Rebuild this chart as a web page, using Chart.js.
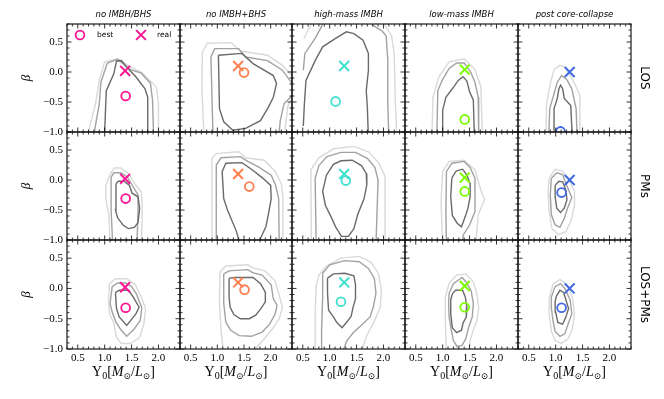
<!DOCTYPE html>
<html>
<head>
<meta charset="utf-8">
<script src="https://cdn.jsdelivr.net/npm/chart.js@4.4.1/dist/chart.umd.min.js"></script>
<style>
  html, body { margin: 0; padding: 0; background: #fff; }
  #wrap { position: relative; width: 664px; height: 399px; overflow: hidden; }
  #wrap canvas { position: absolute; left: 0; top: 0; }
</style>
</head>
<body>
<div id="wrap"></div>
<script>
// ---- data ----
const colTitles = ["no IMBH/BHS", "no IMBH+BHS", "high-mass IMBH", "low-mass IMBH", "post core-collapse"];
const rowLabels = ["LOS", "PMs", "LOS+PMs"];
const modelColors = ["#ff1493", "#ff7f50", "#40e0d0", "#7cfc00", "#4169e1"];

const xTicks = [0.5, 1.0, 1.5, 2.0];
const yTicks = [-1.0, -0.5, 0.0, 0.5];

// "real" values (same in every row)
const realUps = [1.38, 1.39, 1.27, 1.41, 1.26];
const realBeta = [0.02, 0.10, 0.10, 0.04, 0.00];

// "best" fits, one list per row
const bestUps = [
  [1.39, 1.50, 1.11, 1.41, 1.09],
  [1.39, 1.60, 1.30, 1.41, 1.11],
  [1.39, 1.51, 1.21, 1.41, 1.11]
];
const bestBeta = [
  [-0.40, -0.01, -0.49, -0.79, -0.99],
  [-0.31, -0.11, -0.01, -0.19, -0.21],
  [-0.32, -0.02, -0.22, -0.31, -0.32]
];

// contour lines, flat lists of (Upsilon, beta) pairs
const losContours = [
  { dark: [[1.0,-1.1, 1.0,-0.99, 1.03,-0.31, 1.17,-0.03, 1.22,0.18, 1.31,0.19, 1.41,0.08, 1.58,-0.08, 1.75,-0.28, 1.80,-0.42, 1.80,-1.1]],
    mid: [[0.81,-1.1, 0.81,-0.99, 0.90,-0.53, 0.93,-0.17, 1.05,0.15, 1.24,0.21, 1.48,0.04, 1.68,-0.02, 1.85,-0.19, 1.89,-0.47, 1.91,-1.1]],
    light: [[0.70,-1.1, 0.70,-0.99, 0.83,-0.53, 0.90,-0.14, 1.0,0.17, 1.24,0.22, 1.51,0.07, 1.68,0.0, 1.96,-0.25, 2.0,-0.53, 2.0,-1.1]] },
  { dark: [[1.02,0.28, 1.46,0.31, 1.67,0.14, 2.05,-0.06, 2.11,-0.19, 2.05,-0.42, 1.96,-0.58, 1.81,-0.81, 1.53,-0.94, 1.29,-0.97, 1.12,-0.83, 1.04,-0.61, 1.02,0.28]],
    mid: [[0.92,-1.1, 0.88,0.25, 0.95,0.39, 1.40,0.39, 1.53,0.25, 1.94,0.19, 2.22,0.03, 2.40,-0.19, 2.5,-0.3, 2.25,-0.53, 2.18,-0.81, 2.15,-1.1]],
    light: [[0.75,-1.1, 0.71,-0.25, 0.72,0.33, 0.81,0.48, 1.26,0.49, 1.43,0.35, 1.94,0.28, 2.22,0.11, 2.40,-0.06, 2.5,-0.2, 2.32,-0.58, 2.25,-1.1]] },
  { dark: [[0.51,-0.9, 0.53,-0.53, 0.56,-0.14, 0.73,0.19, 0.87,0.42, 1.11,0.56, 1.31,0.67, 1.45,0.64, 1.62,0.53, 1.72,0.31, 1.72,0.03, 1.68,-0.31, 1.70,-0.58, 1.72,-1.1]],
    mid: [[0.51,0.03, 0.54,0.31, 0.73,0.56, 0.85,0.76, 0.88,0.9],
          [1.75,0.9, 1.8,0.78, 1.98,0.68, 2.05,0.6, 2.08,0.2, 2.08,-0.53, 2.10,-1.1]],
    light: [[0.52,0.55, 0.6,0.7, 0.72,0.9],
            [1.95,0.9, 2.05,0.75, 2.15,0.6, 2.2,0.3, 2.22,-0.5, 2.25,-1.1]] },
  { dark: [[0.99,-1.1, 1.0,-0.64, 1.06,-0.42, 1.18,-0.28, 1.29,-0.14, 1.38,-0.08, 1.45,-0.15, 1.50,-0.33, 1.57,-0.47, 1.59,-1.1]],
    mid: [[0.89,-1.1, 0.91,-0.31, 0.99,-0.14, 1.12,0.06, 1.26,0.15, 1.40,0.15, 1.52,0.0, 1.60,-0.17, 1.66,-0.42, 1.67,-1.1]],
    light: [[0.80,-1.1, 0.82,-0.42, 0.93,-0.08, 1.12,0.17, 1.40,0.22, 1.60,0.04, 1.71,-0.25, 1.74,-1.1]] },
  { dark: [[0.97,-1.1, 0.97,-0.61, 1.03,-0.44, 1.06,-0.28, 1.09,-0.22, 1.13,-0.28, 1.16,-0.44, 1.28,-0.56, 1.31,-1.1]],
    mid: [[0.87,-1.1, 0.89,-0.61, 0.97,-0.36, 1.03,-0.17, 1.11,-0.06, 1.21,-0.13, 1.30,-0.28, 1.38,-0.61, 1.40,-1.1]],
    light: [[0.82,-1.1, 0.83,-0.53, 0.90,-0.19, 0.97,0.04, 1.07,0.11, 1.18,0.08, 1.35,-0.19, 1.45,-0.39, 1.45,-1.1]] }
];

const pmsContours = [
  { dark: [[1.21,-0.07, 1.25,-0.02, 1.36,-0.02, 1.46,-0.09, 1.51,-0.22, 1.62,-0.28, 1.65,-0.47, 1.62,-0.71, 1.55,-0.79, 1.44,-0.81, 1.34,-0.75, 1.24,-0.63, 1.20,-0.5, 1.21,-0.07]],
    mid: [[1.15,-1.1, 1.12,-0.5, 1.12,0.05, 1.17,0.12, 1.30,0.12, 1.42,0.05, 1.52,-0.1, 1.62,-0.25, 1.62,-0.5, 1.60,-1.1]],
    light: [[1.1,-1.1, 1.08,-0.6, 1.02,-0.3, 1.02,-0.1, 1.1,0.1, 1.18,0.2, 1.3,0.2, 1.45,0.1, 1.55,-0.05, 1.68,-0.2, 1.7,-0.5, 1.68,-1.1]] },
  { dark: [[1.43,-1.1, 1.36,-0.86, 1.27,-0.67, 1.19,-0.5, 1.12,-0.31, 1.09,0.14, 1.16,0.28, 1.46,0.29, 1.64,0.18, 1.84,0.04, 2.0,-0.09, 2.01,-0.31, 1.96,-0.56, 1.91,-0.78, 1.81,-0.97, 1.77,-1.1]],
    mid: [[0.98,-1.1, 0.98,0.25, 1.07,0.37, 1.43,0.39, 1.57,0.31, 1.77,0.22, 2.01,0.08, 2.09,-0.08, 2.15,-0.31, 2.16,-1.1]],
    light: [[0.90,-1.1, 0.90,0.36, 0.98,0.44, 1.40,0.47, 1.53,0.37, 1.88,0.33, 2.08,0.15, 2.20,-0.06, 2.23,-0.31, 2.23,-1.1]] },
  { dark: [[0.94,0.08, 1.07,0.26, 1.21,0.32, 1.42,0.33, 1.59,0.24, 1.68,0.11, 1.69,-0.08, 1.64,-0.31, 1.52,-0.58, 1.45,-0.81, 1.35,-0.94, 1.22,-0.94, 1.11,-0.78, 1.04,-0.64, 0.92,-0.42, 0.87,-0.19, 0.94,0.08]],
    mid: [[0.75,-1.1, 0.73,0.03, 0.80,0.24, 0.95,0.39, 1.21,0.46, 1.48,0.46, 1.70,0.36, 1.84,0.21, 1.90,0.0, 1.88,-0.53, 1.86,-1.1]],
    light: [[0.66,-1.1, 0.65,0.17, 0.80,0.37, 1.07,0.52, 1.45,0.56, 1.72,0.47, 1.91,0.29, 2.03,0.06, 2.03,-1.1]] },
  { dark: [[1.17,0.03, 1.25,0.15, 1.37,0.18, 1.45,0.08, 1.51,-0.06, 1.51,-0.28, 1.47,-0.47, 1.42,-0.61, 1.35,-0.78, 1.27,-0.72, 1.18,-0.59, 1.15,-0.28, 1.17,0.03]],
    mid: [[1.07,-1.1, 1.06,-0.53, 1.07,0.14, 1.17,0.28, 1.40,0.31, 1.51,0.21, 1.60,0.03, 1.60,-0.53, 1.50,-0.75, 1.38,-0.92, 1.37,-1.1]],
    light: [[1.0,-1.1, 0.97,-0.36, 1.0,0.14, 1.12,0.31, 1.40,0.33, 1.60,0.17, 1.68,-0.08, 1.73,-0.22, 1.78,-0.32, 1.73,-0.43, 1.66,-0.58, 1.61,-1.1]] },
  { dark: [[0.99,-0.09, 1.06,-0.02, 1.13,-0.03, 1.19,-0.17, 1.21,-0.33, 1.16,-0.47, 1.09,-0.54, 1.02,-0.47, 0.99,-0.28, 0.99,-0.09]],
    mid: [[0.92,0.03, 1.02,0.12, 1.13,0.09, 1.19,-0.06, 1.30,-0.29, 1.22,-0.47, 1.16,-0.64, 1.08,-0.79, 0.99,-0.75, 0.92,-0.58, 0.90,-0.25, 0.92,0.03]],
    light: [[0.88,0.03, 0.99,0.18, 1.13,0.15, 1.25,0.0, 1.35,-0.19, 1.35,-0.44, 1.28,-0.69, 1.19,-0.86, 1.05,-0.91, 0.93,-0.81, 0.88,-0.53, 0.86,-0.19, 0.88,0.03]] }
];

const bothContours = [
  { dark: [[1.20,-0.07, 1.27,-0.03, 1.44,-0.03, 1.53,-0.14, 1.64,-0.31, 1.58,-0.42, 1.41,-0.61, 1.27,-0.47, 1.22,-0.33, 1.20,-0.07]],
    mid: [[1.10,-0.25, 1.14,0.03, 1.24,0.09, 1.39,0.09, 1.50,0.03, 1.59,-0.09, 1.69,-0.32, 1.66,-0.53, 1.55,-0.67, 1.41,-0.79, 1.31,-0.69, 1.21,-0.56, 1.14,-0.39, 1.10,-0.25]],
    light: [[1.07,-0.19, 1.09,0.08, 1.20,0.16, 1.41,0.16, 1.57,0.06, 1.68,-0.14, 1.76,-0.33, 1.73,-0.58, 1.65,-0.81, 1.48,-0.91, 1.31,-0.91, 1.22,-0.81, 1.17,-0.58, 1.09,-0.41, 1.07,-0.19]] },
  { dark: [[1.22,0.17, 1.33,0.18, 1.67,0.18, 1.81,0.08, 1.90,-0.06, 1.90,-0.22, 1.82,-0.33, 1.72,-0.44, 1.60,-0.5, 1.43,-0.5, 1.31,-0.43, 1.24,-0.31, 1.22,-0.14, 1.22,0.17]],
    mid: [[1.12,0.24, 1.22,0.29, 1.57,0.31, 1.66,0.26, 1.84,0.22, 2.01,0.06, 2.05,-0.17, 2.12,-0.28, 2.08,-0.43, 1.98,-0.59, 1.84,-0.72, 1.64,-0.79, 1.41,-0.78, 1.25,-0.69, 1.16,-0.56, 1.12,-0.25, 1.12,0.24]],
    light: [[1.12,-1.1, 1.07,-0.69, 1.04,-0.25, 1.05,0.28, 1.16,0.37, 1.57,0.39, 1.67,0.34, 1.89,0.29, 2.08,0.13, 2.16,-0.11, 2.22,-0.31, 2.16,-0.5, 2.03,-0.67, 1.88,-0.83, 1.71,-1.0, 1.64,-1.1]] },
  { dark: [[0.96,0.17, 1.07,0.24, 1.28,0.25, 1.45,0.21, 1.48,0.06, 1.48,-0.17, 1.43,-0.33, 1.40,-0.46, 1.34,-0.53, 1.23,-0.65, 1.13,-0.56, 1.07,-0.47, 0.98,-0.36, 0.96,-0.08, 0.96,0.17]],
    mid: [[0.85,-1.1, 0.85,-0.69, 0.87,-0.14, 0.87,0.25, 1.0,0.39, 1.28,0.46, 1.55,0.44, 1.72,0.33, 1.83,0.17, 1.86,-0.08, 1.81,-0.31, 1.75,-0.47, 1.61,-0.59, 1.45,-0.72, 1.32,-0.86, 1.22,-1.1]],
    light: [[0.74,-1.1, 0.73,-0.42, 0.75,0.03, 0.80,0.22, 0.94,0.37, 1.21,0.5, 1.55,0.53, 1.77,0.43, 1.91,0.24, 1.96,-0.03, 1.94,-0.31, 1.83,-0.54, 1.70,-0.76, 1.56,-1.1]] },
  { dark: [[1.18,-0.09, 1.24,-0.03, 1.37,-0.03, 1.42,-0.14, 1.45,-0.31, 1.44,-0.47, 1.38,-0.57, 1.35,-0.69, 1.26,-0.73, 1.18,-0.65, 1.15,-0.42, 1.15,-0.19, 1.18,-0.09]],
    mid: [[1.12,-0.08, 1.20,0.08, 1.36,0.18, 1.45,0.09, 1.53,-0.04, 1.57,-0.25, 1.55,-0.47, 1.48,-0.65, 1.43,-0.83, 1.36,-0.94, 1.27,-0.96, 1.20,-0.86, 1.16,-0.69, 1.12,-0.47, 1.11,-0.25, 1.12,-0.08]],
    light: [[1.07,-1.1, 1.05,-0.53, 1.05,-0.14, 1.12,0.09, 1.26,0.22, 1.43,0.24, 1.57,0.11, 1.64,-0.11, 1.67,-0.32, 1.64,-0.52, 1.57,-0.68, 1.51,-0.86, 1.48,-1.1]] },
  { dark: [[1.01,-0.13, 1.08,-0.03, 1.15,-0.07, 1.19,-0.19, 1.24,-0.33, 1.19,-0.47, 1.13,-0.59, 1.04,-0.56, 1.0,-0.39, 0.99,-0.22, 1.01,-0.13]],
    mid: [[0.92,-0.14, 0.99,0.03, 1.09,0.08, 1.17,0.0, 1.27,-0.19, 1.30,-0.42, 1.23,-0.59, 1.17,-0.75, 1.08,-0.79, 0.99,-0.71, 0.95,-0.53, 0.92,-0.32, 0.92,-0.14]],
    light: [[0.88,-0.17, 0.95,0.07, 1.08,0.15, 1.20,0.07, 1.31,-0.14, 1.35,-0.42, 1.31,-0.67, 1.23,-0.83, 1.10,-0.91, 0.99,-0.86, 0.92,-0.71, 0.88,-0.43, 0.88,-0.17]] }
];

const contours = [losContours, pmsContours, bothContours];

// ---- layout ----
const colLeft = [67, 180, 292, 405, 518];
const colWidth = [113, 112, 113, 113, 113];
const rowTop = [24, 132, 240];
const rowHeight = [108, 108, 109];
const YW = 48;   // width of left axis box
const XH = 20;   // height of bottom axis box

const levelColors = { light: "#d9d9d9", mid: "#a2a2a2", dark: "#6a6a6a" };
const serif = '"Liberation Serif", "DejaVu Serif", serif';
const sans = '"DejaVu Sans", sans-serif';

function toPts(flat) {
  const pts = [];
  for (let i = 0; i < flat.length; i += 2) pts.push({ x: flat[i], y: flat[i + 1] });
  return pts;
}

function fmt(v) {
  return (v < 0 ? "\u2212" : "") + Math.abs(v).toFixed(1);
}

const wrap = document.getElementById("wrap");

function drawCircle(ctx, x, y, r, color) {
  ctx.strokeStyle = color;
  ctx.lineWidth = 1.8;
  ctx.beginPath();
  ctx.arc(x, y, r, 0, Math.PI * 2);
  ctx.stroke();
}

function drawCross(ctx, x, y, h, color) {
  ctx.strokeStyle = color;
  ctx.lineWidth = 2;
  ctx.beginPath();
  ctx.moveTo(x - h, y - h); ctx.lineTo(x + h, y + h);
  ctx.moveTo(x - h, y + h); ctx.lineTo(x + h, y - h);
  ctx.stroke();
}

function makePanel(r, c) {
  const cv = document.createElement("canvas");
  cv.width = 664; cv.height = 399;
  cv.style.width = "664px"; cv.style.height = "399px";
  wrap.appendChild(cv);

  const L = colLeft[c], R = L + colWidth[c];
  const T = rowTop[r], B = T + rowHeight[r];
  const showY = c === 0, showX = r === 2;
  const color = modelColors[c];

  const datasets = [];
  // markers first so they are drawn on top
  datasets.push({
    data: [{ x: realUps[c], y: realBeta[c] }],
    pointStyle: "crossRot", pointRadius: 7, pointBorderWidth: 2,
    borderColor: color, backgroundColor: "transparent", clip: 0
  });
  datasets.push({
    data: [{ x: bestUps[r][c], y: bestBeta[r][c] }],
    pointStyle: "circle", pointRadius: 4.4, pointBorderWidth: 1.8,
    borderColor: color, backgroundColor: "transparent", clip: 0
  });
  const cont = contours[r][c];
  ["dark", "mid", "light"].forEach((lv) => {
    cont[lv].forEach((line) => {
      datasets.push({
        data: toPts(line), showLine: true, borderColor: levelColors[lv],
        borderWidth: 1.4, pointRadius: 0, tension: 0, fill: false, clip: 0
      });
    });
  });

  // frame, inward ticks and the extra labels
  const panelDecor = {
    id: "panelDecor",
    afterDraw(chart) {
      const ctx = chart.ctx;
      const a = chart.chartArea;
      const xs = chart.scales.x, ys = chart.scales.y;
      ctx.save();
      ctx.strokeStyle = "#000";
      ctx.lineWidth = 0.8;
      ctx.beginPath();
      for (let i = 3; i <= 24; i++) {
        const px = xs.getPixelForValue(i / 10);
        const len = i % 5 === 0 ? 4.5 : 2.5;
        ctx.moveTo(px, a.bottom); ctx.lineTo(px, a.bottom - len);
        ctx.moveTo(px, a.top); ctx.lineTo(px, a.top + len);
      }
      for (let i = -10; i <= 8; i++) {
        const py = ys.getPixelForValue(i / 10);
        const len = i % 5 === 0 ? 4.5 : 2.5;
        ctx.moveTo(a.left, py); ctx.lineTo(a.left + len, py);
        ctx.moveTo(a.right, py); ctx.lineTo(a.right - len, py);
      }
      ctx.stroke();
      ctx.strokeStyle = "#1a1a1a";
      ctx.lineWidth = 1.2;
      ctx.strokeRect(a.left, a.top, a.right - a.left, a.bottom - a.top);

      ctx.fillStyle = "#000";
      if (r === 0) {
        ctx.font = "italic 8.5px " + sans;
        ctx.textAlign = "center";
        ctx.textBaseline = "middle";
        ctx.fillText(colTitles[c], (a.left + a.right) / 2, 15);
      }
      if (c === 4) {
        ctx.save();
        ctx.translate(644, (a.top + a.bottom) / 2);
        ctx.rotate(Math.PI / 2);
        ctx.font = "12px " + sans;
        ctx.textAlign = "center";
        ctx.textBaseline = "middle";
        ctx.fillText(rowLabels[r], 0, 0);
        ctx.restore();
      }
      if (showX) {
        const pieces = [
          { t: "\u03A5", f: "14px " + serif, dy: 0 },
          { t: "0", f: "10px " + serif, dy: 3 },
          { t: "[", f: "14px " + serif, dy: 0 },
          { t: "M", f: "italic 14px " + serif, dy: 0 },
          { t: "\u2299", f: "9px " + serif, dy: 3 },
          { t: "/", f: "14px " + serif, dy: 0 },
          { t: "L", f: "italic 14px " + serif, dy: 0 },
          { t: "\u2299", f: "9px " + serif, dy: 3 },
          { t: "]", f: "14px " + serif, dy: 0 }
        ];
        let w = 0;
        pieces.forEach((p) => { ctx.font = p.f; p.w = ctx.measureText(p.t).width; w += p.w; });
        let x = (a.left + a.right) / 2 - w / 2;
        ctx.textAlign = "left";
        ctx.textBaseline = "alphabetic";
        pieces.forEach((p) => { ctx.font = p.f; ctx.fillText(p.t, x, 376 + p.dy); x += p.w; });
      }
      if (r === 0 && c === 0) {
        drawCircle(ctx, 80, 35, 4.4, color);
        drawCross(ctx, 141, 35, 4.9, color);
        ctx.fillStyle = "#000";
        ctx.font = "7.5px " + sans;
        ctx.textAlign = "left";
        ctx.textBaseline = "middle";
        ctx.fillText("best", 97, 35);
        ctx.fillText("real", 157, 35);
      }
      ctx.restore();
    }
  };

  new Chart(cv, {
    type: "scatter",
    data: { datasets },
    options: {
      responsive: false,
      animation: false,
      devicePixelRatio: 1,
      events: [],
      layout: {
        padding: {
          left: L - (showY ? YW : 0),
          right: 664 - R,
          top: T,
          bottom: 399 - B - (showX ? XH : 0)
        }
      },
      plugins: { legend: { display: false }, tooltip: { enabled: false } },
      scales: {
        x: {
          type: "linear", min: 0.3, max: 2.4, display: showX,
          grid: { display: false, drawTicks: false },
          border: { display: false },
          afterBuildTicks: (s) => { s.ticks = xTicks.map((v) => ({ value: v })); },
          afterFit: (s) => { if (showX) s.height = XH; },
          ticks: { padding: 3, color: "#000", autoSkip: false, maxRotation: 0,
                   font: { family: serif, size: 11 }, callback: (v) => fmt(v) }
        },
        y: {
          type: "linear", min: -1.0, max: 0.8, display: showY, position: "left",
          grid: { display: false, drawTicks: false },
          border: { display: false },
          afterBuildTicks: (s) => { s.ticks = yTicks.map((v) => ({ value: v })); },
          afterFit: (s) => { if (showY) s.width = YW; },
          ticks: { padding: 4, color: "#000", autoSkip: false,
                   font: { family: serif, size: 11 }, callback: (v) => fmt(v) },
          title: { display: showY, text: "\u03B2", color: "#000", padding: 0,
                   font: { family: serif, style: "italic", size: 13 } }
        }
      }
    },
    plugins: [panelDecor]
  });
}

for (let r = 0; r < 3; r++) {
  for (let c = 0; c < 5; c++) makePanel(r, c);
}
</script>
</body>
</html>
